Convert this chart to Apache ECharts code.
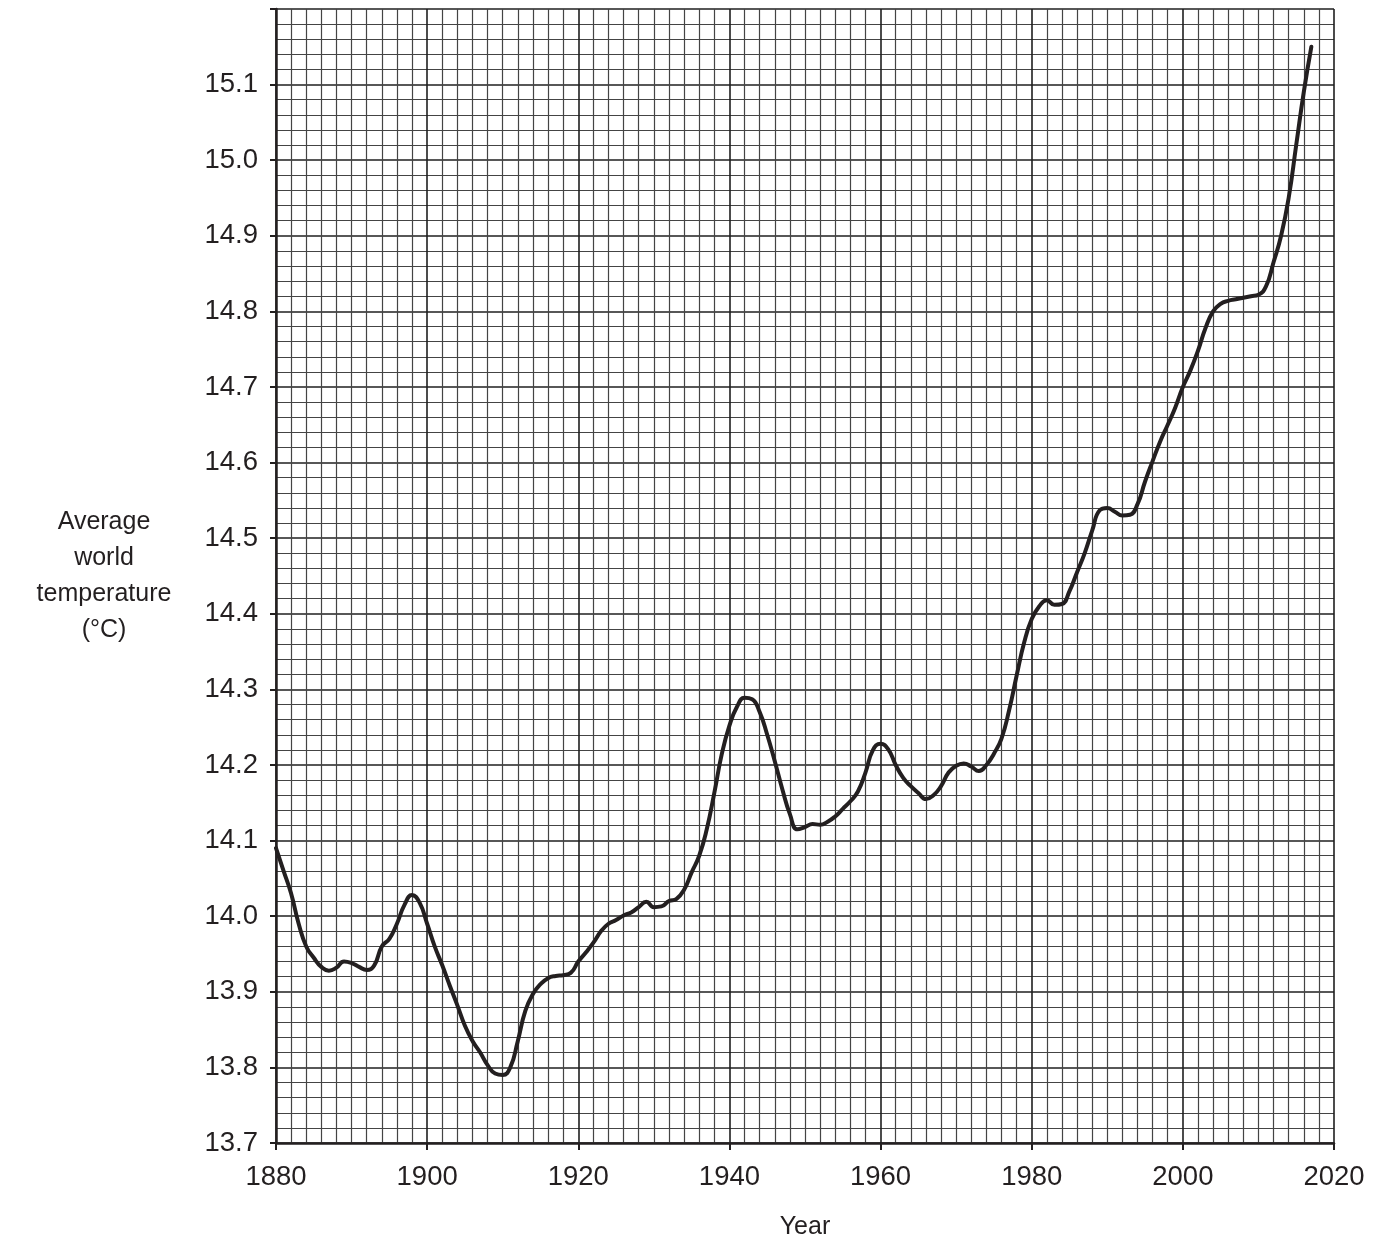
<!DOCTYPE html>
<html>
<head>
<meta charset="utf-8">
<script src="https://cdn.jsdelivr.net/npm/echarts@6/dist/echarts.min.js"></script>
<style>
  html, body { margin: 0; padding: 0; background: #fff; }
  #chart { width: 1386px; height: 1243px; }
</style>
</head>
<body>
<div id="chart"></div>
<script>
// Average world temperature
const years = [
  1880, 1881, 1882, 1883, 1884, 1885, 1886, 1887, 1888, 1889,
  1890, 1891, 1892, 1893, 1894, 1895, 1896, 1897, 1898, 1899,
  1900, 1901, 1902, 1903, 1904, 1905, 1906, 1907, 1908, 1909,
  1910, 1911, 1912, 1913, 1914, 1915, 1916, 1917, 1918, 1919,
  1920, 1921, 1922, 1923, 1924, 1925, 1926, 1927, 1928, 1929,
  1930, 1931, 1932, 1933, 1934, 1935, 1936, 1937, 1938, 1939,
  1940, 1941, 1942, 1943, 1944, 1945, 1946, 1947, 1948, 1949,
  1950, 1951, 1952, 1953, 1954, 1955, 1956, 1957, 1958, 1959,
  1960, 1961, 1962, 1963, 1964, 1965, 1966, 1967, 1968, 1969,
  1970, 1971, 1972, 1973, 1974, 1975, 1976, 1977, 1978, 1979,
  1980, 1981, 1982, 1983, 1984, 1985, 1986, 1987, 1988, 1989,
  1990, 1991, 1992, 1993, 1994, 1995, 1996, 1997, 1998, 1999,
  2000, 2001, 2002, 2003, 2004, 2005, 2006, 2007, 2008, 2009,
  2010, 2011, 2012, 2013, 2014, 2015, 2016, 2017
];
const temps = [
  14.09, 14.06, 14.03, 13.99, 13.96, 13.945, 13.933, 13.928, 13.932, 13.94,
  13.938, 13.933, 13.929, 13.935, 13.96, 13.97, 13.99, 14.015, 14.028, 14.018,
  13.99, 13.96, 13.935, 13.908, 13.882, 13.855, 13.835, 13.82, 13.803, 13.792,
  13.79, 13.8, 13.835, 13.875, 13.897, 13.91, 13.918, 13.921, 13.922, 13.925,
  13.94, 13.952, 13.965, 13.98, 13.99, 13.995, 14.001, 14.005, 14.012, 14.019,
  14.012, 14.013, 14.02, 14.023, 14.035, 14.058, 14.08, 14.115, 14.163, 14.215,
  14.252, 14.277, 14.289, 14.287, 14.27, 14.24, 14.205, 14.168, 14.135, 14.115,
  14.118, 14.122, 14.121, 14.125, 14.132, 14.142, 14.152, 14.165, 14.19, 14.22,
  14.228, 14.221, 14.2, 14.183, 14.172, 14.163, 14.155, 14.16, 14.172, 14.19,
  14.199, 14.202, 14.198, 14.192, 14.2, 14.215, 14.235, 14.272, 14.318, 14.362,
  14.393, 14.41, 14.418, 14.412, 14.413, 14.43, 14.455, 14.48, 14.51, 14.537,
  14.54, 14.535, 14.53, 14.531, 14.545, 14.575, 14.602, 14.628, 14.65, 14.673,
  14.7, 14.722, 14.748, 14.778, 14.8, 14.81, 14.814, 14.816, 14.818, 14.82,
  14.822, 14.833, 14.865, 14.9, 14.95, 15.02, 15.09, 15.15
];

const xMin = 1880, xMax = 2020, xStep = 20;
const yMin = 13.7, yMax = 15.2, yStep = 0.1;
const hiddenYLabels = ['15.2'];

const FONT = '"Liberation Sans", Arial, sans-serif';
const INK = '#231f20';

const chart = echarts.init(document.getElementById('chart'));

const option = {
  animation: false,
  backgroundColor: '#fff',
  grid: {
    left: 276, right: 52, top: 9, bottom: 100,
    containLabel: false,
    outerBoundsMode: 'none'
  },
  xAxis: {
    type: 'value',
    min: xMin, max: xMax, interval: xStep,
    name: 'Year',
    nameLocation: 'middle',
    nameGap: 72,
    nameTextStyle: { fontFamily: FONT, fontSize: 25, color: INK },
    axisLine: { show: true, onZero: false, lineStyle: { color: INK, width: 2.5 } },
    axisTick: { show: true, length: 7, lineStyle: { color: INK, width: 2 } },
    axisLabel: {
      margin: 20, fontFamily: FONT, fontSize: 27.5, color: INK,
      formatter: (v) => String(v)
    },
    splitLine: { show: true, lineStyle: { color: '#1f1f1f', width: 1.6 } },
    minorTick: { show: false, splitNumber: 10 },
    minorSplitLine: { show: true, lineStyle: { color: '#444', width: 1.2 } }
  },
  yAxis: {
    type: 'value',
    min: yMin, max: yMax, interval: yStep,
    name: 'Average\nworld\ntemperature\n(°C)',
    nameLocation: 'middle',
    nameRotate: 0,
    nameGap: 172,
    nameTextStyle: {
      fontFamily: FONT, fontSize: 25, color: INK,
      align: 'center', verticalAlign: 'middle', lineHeight: 36
    },
    axisLine: { show: true, onZero: false, lineStyle: { color: INK, width: 2.5 } },
    axisTick: { show: true, length: 6, lineStyle: { color: INK, width: 2 } },
    axisLabel: {
      margin: 18, fontFamily: FONT, fontSize: 27.5, color: INK,
      formatter: (v) => {
        const s = v.toFixed(1);
        return hiddenYLabels.includes(s) ? '' : s;
      }
    },
    splitLine: { show: true, lineStyle: { color: '#1f1f1f', width: 1.6 } },
    minorTick: { show: false, splitNumber: 5 },
    minorSplitLine: { show: true, lineStyle: { color: '#444', width: 1.2 } }
  },
  series: [
    {
      type: 'line',
      data: years.map((y, i) => [y, temps[i]]),
      smooth: 0.5,
      symbol: 'none',
      lineStyle: { color: INK, width: 4, cap: 'round', join: 'round' },
      z: 5
    }
  ]
};

chart.setOption(option);
</script>
</body>
</html>
